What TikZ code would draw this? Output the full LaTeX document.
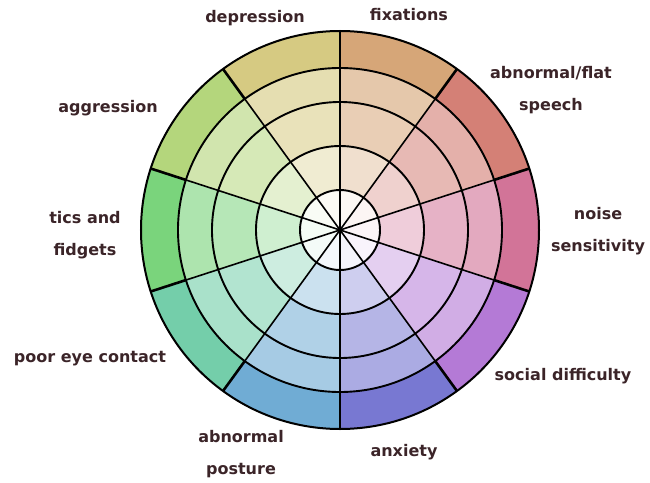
\documentclass[tikz,border=0pt]{standalone}
\usepackage{fontspec}
\setmainfont{DejaVu Sans}
\usepackage{tikz}
\usetikzlibrary{positioning}
\usepackage{xcolor}
\definecolor{labelcolor}{RGB}{59,36,40}
\definecolor{fixcolor}{RGB}{214,166,120}
\definecolor{speechcolor}{RGB}{212,128,118}
\definecolor{noisecolor}{RGB}{210,116,152}
\definecolor{socialcolor}{RGB}{180,122,214}
\definecolor{anxcolor}{RGB}{120,120,210}
\definecolor{posturecolor}{RGB}{112,172,212}
\definecolor{eyecolor}{RGB}{116,206,170}
\definecolor{ticscolor}{RGB}{122,212,124}
\definecolor{aggrcolor}{RGB}{180,214,124}
\definecolor{deprcolor}{RGB}{214,202,130}

\begin{document}
\begin{tikzpicture}[x=1pt,y=1pt,
    wheellabel/.style={text=labelcolor,font=\bfseries\fontsize{16}{32}\selectfont,align=center},
    ringline/.style={black,line width=1.9pt},
    spokeline/.style={black,line width=1.6pt}]
        \useasboundingbox (-340,-252) rectangle (310,230);
        % wedges, outer ring first
        \foreach \c [count=\i from 0] in {fixcolor,speechcolor,noisecolor,socialcolor,anxcolor,posturecolor,eyecolor,ticscolor,aggrcolor,deprcolor}{
          \pgfmathsetmacro\a{90-36*\i}
          \pgfmathsetmacro\b{\a-36}
          \foreach \r/\p in {199/100,162/62,128/55,84/36,40/8}
            \fill[\c!\p!white] (0,0) -- (\a:\r pt) arc[start angle=\a,end angle=\b,radius=\r pt] -- cycle;
        }
        \foreach \r in {40,84,128,162}
          \draw[ringline] (0,0) circle[radius=\r pt];
        \draw[ringline,line width=2pt] (0,0) circle[radius=199pt];
        \foreach \a in {90,54,...,-234}{
          \draw[spokeline] (0,0) -- (\a:162pt);
          \draw[spokeline,line width=2.6pt] (\a:162pt) -- (\a:199pt);
        }
        \fill[black] (0,0) circle[radius=2.5pt];
        \node[wheellabel] (depr) at (-85,212) {depression};
        \node[wheellabel] (fix) at (69,215) {fixations};
        \node[wheellabel] (speech) at (211,140) {abnormal/flat\\speech};
        \node[wheellabel] (noise) at (258,-1) {noise\\sensitivity};
        \node[wheellabel] (social) at (223,-146) {social difficulty};
        \node[wheellabel] (anx) at (64,-222) {anxiety};
        \node[wheellabel] (posture) at (-99,-224) {abnormal\\posture};
        \node[wheellabel] (eye) at (-250,-129) {poor eye contact};
        \node[wheellabel] (tics) at (-255,-5) {tics and\\fidgets};
        \node[wheellabel] (aggr) at (-232,122) {aggression};
      \end{tikzpicture}
\end{document}
